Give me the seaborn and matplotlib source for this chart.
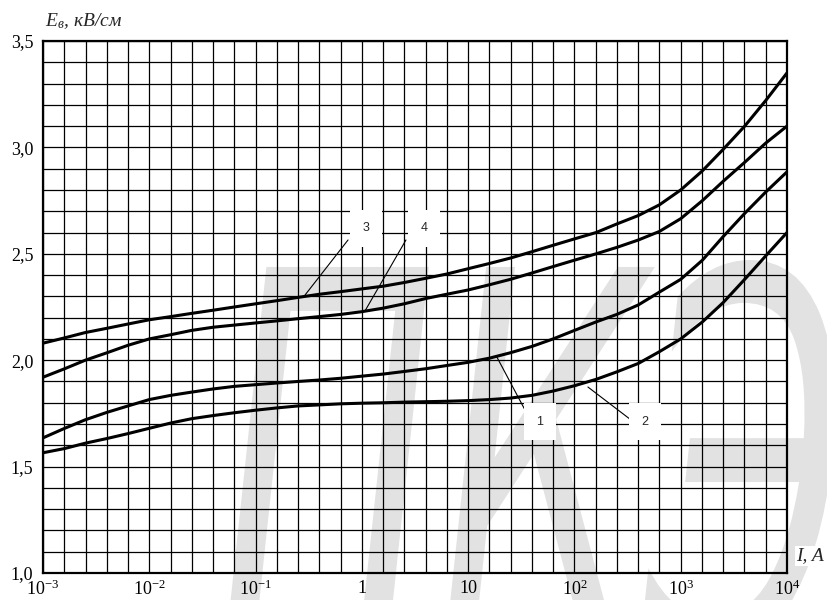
import matplotlib
matplotlib.use('Agg')
import numpy as np
import pandas as pd
import matplotlib.pyplot as plt
import seaborn as sns
from matplotlib.ticker import FixedLocator, NullFormatter
from matplotlib.textpath import TextPath
from matplotlib.patches import PathPatch
from matplotlib.font_manager import FontProperties
from matplotlib.transforms import Affine2D, IdentityTransform

# ток I, А (узлы сетки)
current = [1e-3, 1.6e-3, 2.5e-3, 4e-3, 6.3e-3, 1e-2, 1.6e-2, 2.5e-2, 4e-2, 6.3e-2,
           0.1, 0.16, 0.25, 0.4, 0.63, 1, 1.6, 2.5, 4, 6.3,
           10, 16, 25, 40, 63, 100, 160, 250, 400, 630,
           1000, 1600, 2500, 4000, 6300, 10000]
# напряженность E, кВ/см для кривых 1-4
curve_1 = [1.635, 1.68, 1.72, 1.755, 1.785, 1.815, 1.835, 1.85, 1.865, 1.877,
           1.885, 1.893, 1.90, 1.907, 1.915, 1.925, 1.935, 1.947, 1.96, 1.975,
           1.99, 2.01, 2.035, 2.065, 2.10, 2.14, 2.18, 2.215, 2.26, 2.32,
           2.38, 2.47, 2.58, 2.69, 2.79, 2.885]
curve_2 = [1.565, 1.585, 1.61, 1.632, 1.655, 1.68, 1.705, 1.725, 1.74, 1.753,
           1.765, 1.776, 1.785, 1.79, 1.795, 1.798, 1.80, 1.803, 1.805, 1.807,
           1.81, 1.815, 1.822, 1.835, 1.855, 1.88, 1.91, 1.945, 1.985, 2.04,
           2.10, 2.18, 2.27, 2.38, 2.49, 2.60]
curve_3 = [2.08, 2.105, 2.13, 2.15, 2.17, 2.19, 2.205, 2.22, 2.235, 2.25,
           2.265, 2.28, 2.295, 2.31, 2.322, 2.335, 2.348, 2.365, 2.385, 2.405,
           2.43, 2.455, 2.48, 2.51, 2.54, 2.57, 2.60, 2.64, 2.68, 2.73,
           2.80, 2.89, 2.99, 3.10, 3.22, 3.35]
curve_4 = [1.92, 1.96, 2.00, 2.035, 2.07, 2.10, 2.12, 2.14, 2.155, 2.165,
           2.175, 2.185, 2.195, 2.205, 2.215, 2.228, 2.245, 2.265, 2.29, 2.31,
           2.33, 2.355, 2.38, 2.41, 2.44, 2.47, 2.50, 2.53, 2.565, 2.605,
           2.665, 2.75, 2.84, 2.93, 3.02, 3.10]

x_ticks = [1e-3, 1e-2, 1e-1, 1, 10, 1e2, 1e3, 1e4]
x_labels = ['$10^{-3}$', '$10^{-2}$', '$10^{-1}$', '1', '10',
            '$10^{2}$', '$10^{3}$', '$10^{4}$']
y_ticks = [1.0, 1.5, 2.0, 2.5, 3.0, 3.5]
y_labels = ['1,0', '1,5', '2,0', '2,5', '3,0', '3,5']

df = pd.concat([pd.DataFrame({'I': current, 'E': c, 'curve': n})
                for n, c in zip(['1', '2', '3', '4'], [curve_1, curve_2, curve_3, curve_4])])

sns.set_style('white')
plt.rcParams['font.family'] = ['Liberation Serif', 'DejaVu Serif']
plt.rcParams['mathtext.fontset'] = 'custom'
plt.rcParams['mathtext.rm'] = 'Liberation Serif'
plt.rcParams['mathtext.it'] = 'Liberation Serif:italic'

fig = plt.figure(figsize=(8.27, 6.0), dpi=100)
ax = fig.add_axes([43 / 827, 27 / 600, 744 / 827, 532 / 600])
ax.set_facecolor('none')

# водяной знак
tp = TextPath((0, 0), 'ПКЭ', size=100,
              prop=FontProperties(family='DejaVu Sans', style='oblique'))
bb = tp.get_extents()
tr = Affine2D().translate(-bb.x0, -bb.y0).scale(610 / bb.width, 400 / bb.height).translate(225, -60)
wm = PathPatch(tr.transform_path(tp), facecolor='#e2e2e2', edgecolor='none',
               transform=IdentityTransform(), zorder=-5)
fig.add_artist(wm)

sns.lineplot(data=df, x='I', y='E', units='curve', estimator=None, color='black',
             linewidth=2.2, ax=ax, legend=False, zorder=5)

ax.set_xscale('log')
ax.set_xlim(1e-3, 1e4)
ax.set_ylim(1.0, 3.5)
ax.xaxis.set_major_locator(FixedLocator(x_ticks))
ax.xaxis.set_minor_locator(FixedLocator(10 ** np.arange(-3, 4.01, 0.2)))
ax.xaxis.set_minor_formatter(NullFormatter())
ax.set_xticklabels(x_labels)
ax.yaxis.set_major_locator(FixedLocator(y_ticks))
ax.yaxis.set_minor_locator(FixedLocator(np.arange(1.0, 3.51, 0.1)))
ax.set_yticklabels(y_labels)
ax.grid(which='both', color='black', linewidth=0.9)
ax.tick_params(which='both', length=0, labelsize=13, colors='black')
ax.tick_params(axis='x', pad=5)
ax.tick_params(axis='y', pad=7)
for s in ax.spines.values():
    s.set_color('black')
    s.set_linewidth(1.6)
ax.set_xlabel('')
ax.set_ylabel('')

# выноски с номерами кривых
leaders = [((10 ** -0.535, 2.306), (10 ** -0.13, 2.565)),
           ((10 ** 0.03, 2.232), (10 ** 0.415, 2.565)),
           ((10 ** 1.27, 2.015), (10 ** 1.60, 1.705)),
           ((10 ** 2.127, 1.874), (10 ** 2.57, 1.705))]
for (x0, y0), (x1, y1) in leaders:
    ax.plot([x0, x1], [y0, y1], color='black', linewidth=0.8, zorder=6)
for txt, x, y in [('3', 10 ** 0.04, 2.62), ('4', 10 ** 0.584, 2.62),
                  ('1', 10 ** 1.675, 1.71), ('2', 10 ** 2.663, 1.71)]:
    ax.text(x, y, txt, ha='center', va='center', fontsize=9, family='Liberation Sans',
            zorder=7, bbox=dict(boxstyle='square,pad=1.0', fc='white', ec='none'))

fig.text(45 / 827, 1 - 21 / 600, r'$E_в$, кВ/см', fontsize=14, style='italic',
         ha='left', va='center')
fig.text(796 / 827, 1 - 556 / 600, 'I, A', fontsize=14, style='italic',
         ha='left', va='center', bbox=dict(fc='white', ec='none', pad=1))

fig.savefig('out.png', dpi=100)
